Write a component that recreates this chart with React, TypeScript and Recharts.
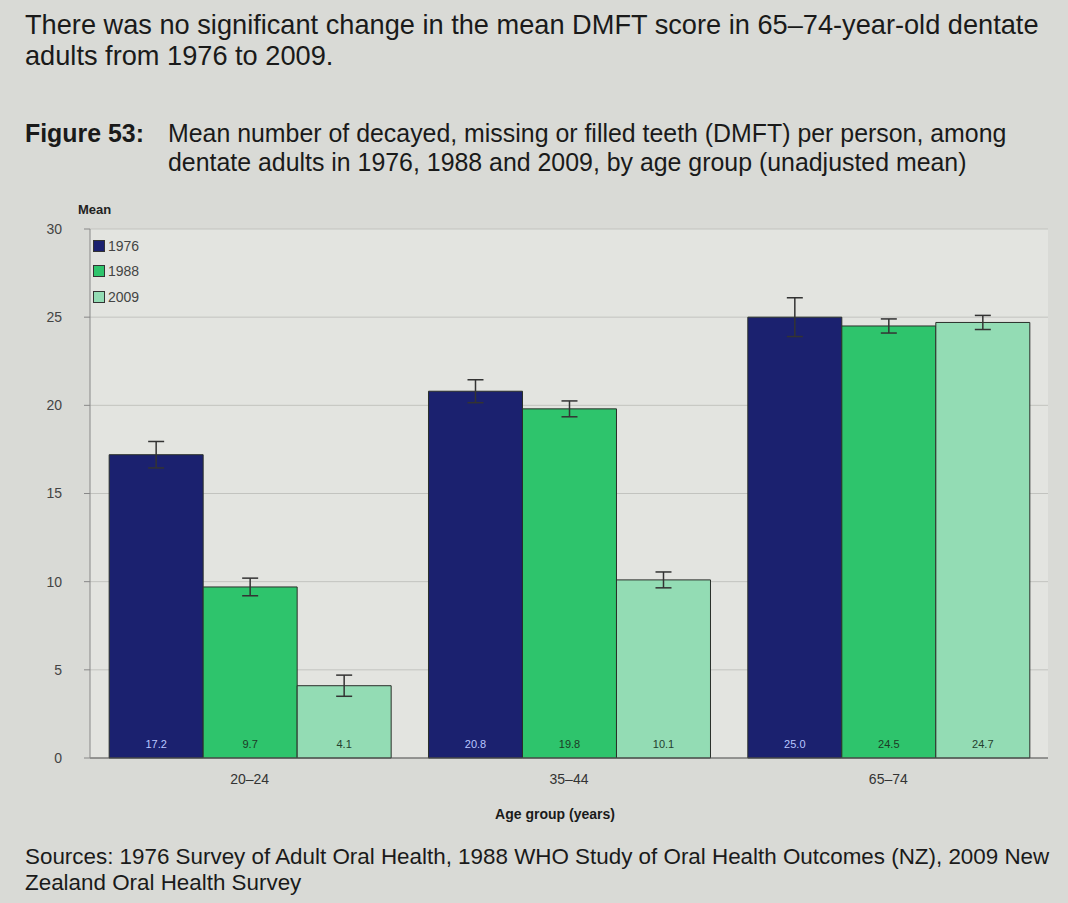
import {
  BarChart,
  Bar,
  XAxis,
  YAxis,
  CartesianGrid,
  ErrorBar,
  LabelList,
} from 'recharts';

const AGE_GROUPS = ['20–24', '35–44', '65–74'];
const MEAN_1976 = [17.2, 20.8, 25.0];
const MEAN_1988 = [9.7, 19.8, 24.5];
const MEAN_2009 = [4.1, 10.1, 24.7];
const CI_1976 = [0.75, 0.65, 1.1];
const CI_1988 = [0.5, 0.45, 0.4];
const CI_2009 = [0.6, 0.45, 0.4];
const Y_TICKS = [0, 5, 10, 15, 20, 25, 30];

const SERIES = [
  { key: 'y1976', err: 'e1976', name: '1976', fill: '#1b216f', label: '#b9c6ff' },
  { key: 'y1988', err: 'e1988', name: '1988', fill: '#2ec46c', label: '#1d3a26' },
  { key: 'y2009', err: 'e2009', name: '2009', fill: '#93dcb4', label: '#24402f' },
];

const data = AGE_GROUPS.map((g, i) => ({
  group: g,
  y1976: MEAN_1976[i],
  y1988: MEAN_1988[i],
  y2009: MEAN_2009[i],
  e1976: CI_1976[i],
  e1988: CI_1988[i],
  e2009: CI_2009[i],
}));

const font = '"Liberation Sans", Arial, sans-serif';

function LegendBox() {
  return (
    <div style={{ fontFamily: font, fontSize: 14, color: '#444' }}>
      {SERIES.map((s) => (
        <div key={s.key} style={{ display: 'flex', alignItems: 'center', height: 25.5 }}>
          <span
            style={{
              width: 10,
              height: 10,
              background: s.fill,
              border: '1px solid #333',
              marginRight: 3,
              display: 'inline-block',
            }}
          />
          {s.name}
        </div>
      ))}
    </div>
  );
}

export default function App() {
  return (
    <div
      style={{
        position: 'relative',
        width: 1068,
        height: 903,
        background: '#d9dad6',
        fontFamily: font,
        color: '#1a1a1a',
        overflow: 'hidden',
      }}
    >
      <style>{'body{margin:0}'}</style>
      <div style={{ position: 'absolute', left: 25, top: 9, fontSize: 27.2, lineHeight: '31px', width: 1060, whiteSpace: 'nowrap' }}>
        There was no significant change in the mean DMFT score in 65–74-year-old dentate
        <br />
        adults from 1976 to 2009.
      </div>
      <div style={{ position: 'absolute', left: 25, top: 119, fontSize: 24.9, lineHeight: '29px', display: 'flex', whiteSpace: 'nowrap' }}>
        <div style={{ fontWeight: 'bold', width: 143 }}>Figure 53:</div>
        <div>
          Mean number of decayed, missing or filled teeth (DMFT) per person, among
          <br />
          dentate adults in 1976, 1988 and 2009, by age group (unadjusted mean)
        </div>
      </div>
      <div style={{ position: 'absolute', left: 78, top: 202, fontSize: 13, fontWeight: 'bold', color: '#222' }}>
        Mean
      </div>
      <div
        style={{
          position: 'absolute',
          left: 0,
          width: 1068,
          top: 806,
          textAlign: 'center',
          fontSize: 14,
          fontWeight: 'bold',
          paddingLeft: 42,
          boxSizing: 'border-box',
        }}
      >
        Age group (years)
      </div>
      <div style={{ position: 'absolute', left: 25, top: 844, fontSize: 22.4, lineHeight: '26px', width: 1060, whiteSpace: 'nowrap' }}>
        Sources: 1976 Survey of Adult Oral Health, 1988 WHO Study of Oral Health Outcomes (NZ), 2009 New
        <br />
        Zealand Oral Health Survey
      </div>
      <div style={{ position: 'absolute', left: 0, top: 0 }}>
        <BarChart
          width={1068}
          height={903}
          data={data}
          margin={{ top: 229, right: 20, left: 30, bottom: 115 }}
          barCategoryGap="6%"
          barGap={0}
        >
          <CartesianGrid vertical={false} stroke="#c2c3bf" fill="#e3e4e0" />
          <XAxis
            dataKey="group"
            height={30}
            tick={{ fontSize: 14, fill: '#333', fontFamily: font }}
            tickLine={false}
            axisLine={{ stroke: '#555' }}
            tickMargin={10}
          />
          <YAxis
            width={60}
            domain={[0, 30]}
            ticks={Y_TICKS}
            tick={{ fontSize: 14, fill: '#444', fontFamily: font }}
            tickLine={{ stroke: '#888' }}
            tickSize={6}
            tickMargin={22}
            axisLine={{ stroke: '#888' }}
            interval={0}
          />
          <YAxis
            yAxisId="r"
            orientation="right"
            width={0}
            domain={[0, 30]}
            tick={false}
            tickLine={false}
            axisLine={{ stroke: '#888' }}
          />
          {SERIES.map((s) => (
            <Bar
              key={s.key}
              dataKey={s.key}
              name={s.name}
              fill={s.fill}
              stroke="#2a2f2a"
              strokeWidth={1}
              isAnimationActive={false}
            >
              <ErrorBar dataKey={s.err} width={8} stroke="#333" strokeWidth={1.5} />
              <LabelList
                dataKey={s.key}
                position="insideBottom"
                offset={10}
                formatter={(v: number) => v.toFixed(1)}
                style={{ fill: s.label, fontSize: 11, fontFamily: font }}
              />
            </Bar>
          ))}
        </BarChart>
      </div>
      <div style={{ position: 'absolute', left: 93, top: 233, zIndex: 2 }}>
        <LegendBox />
      </div>
    </div>
  );
}
